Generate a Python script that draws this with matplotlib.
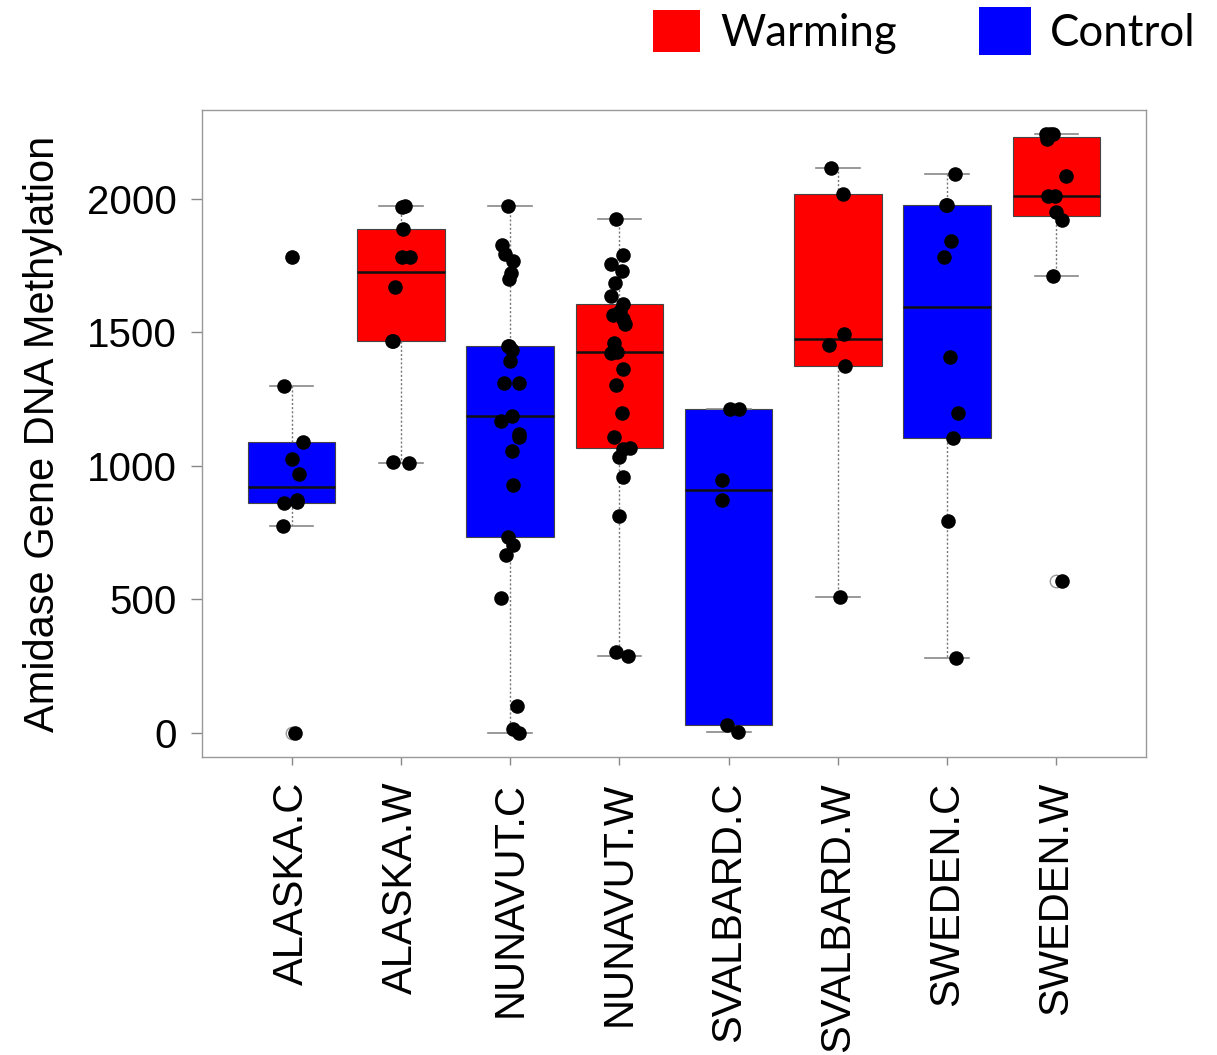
import numpy as np
import matplotlib
matplotlib.use("Agg")
import matplotlib.pyplot as plt
from matplotlib.patches import Rectangle

# groups, in plotting order
groups = ["ALASKA.C", "ALASKA.W", "NUNAVUT.C", "NUNAVUT.W",
          "SVALBARD.C", "SVALBARD.W", "SWEDEN.C", "SWEDEN.W"]

# methylation values, with the horizontal jitter of each dot
alaska_c = [1780, 1297, 1091, 1026, 969, 872, 865, 860, 775, 0]
alaska_c_jit = [0.0, -0.07, 0.10, 0.0, 0.07, 0.05, 0.05, -0.07, -0.08, 0.035]

alaska_w = [1974, 1968, 1886, 1780, 1780, 1668, 1469, 1469, 1016, 1010]
alaska_w_jit = [0.04, 0.01, 0.02, 0.01, 0.08, -0.05, -0.08, -0.07, -0.07, 0.07]

nunavut_c = [1974, 1828, 1793, 1765, 1721, 1699, 1447, 1447, 1432, 1393,
             1310, 1310, 1187, 1166, 1119, 1107, 1057, 929, 735, 702,
             667, 506, 101, 14, 0]
nunavut_c_jit = [-0.02, -0.07, -0.05, 0.025, 0.005, -0.01, -0.02, -0.01, 0.02, 0.0,
                 -0.055, 0.085, 0.015, -0.08, 0.085, 0.08, 0.02, 0.025, -0.02, 0.03,
                 -0.04, -0.08, 0.065, 0.025, 0.08]

nunavut_w = [1922, 1790, 1755, 1729, 1685, 1634, 1605, 1578, 1565, 1551,
             1529, 1458, 1425, 1422, 1361, 1301, 1196, 1109, 1066, 1063,
             1034, 959, 812, 305, 288]
nunavut_w_jit = [-0.03, 0.035, -0.08, 0.02, -0.04, -0.08, 0.03, 0.01, -0.06, 0.035,
                 0.05, -0.045, -0.02, -0.08, 0.035, -0.03, 0.02, -0.05, 0.095, 0.035,
                 -0.005, 0.03, 0.0, -0.03, 0.075]

svalbard_c = [1214, 1214, 946, 872, 29, 5]
svalbard_c_jit = [0.01, 0.09, -0.06, -0.06, -0.015, 0.085]

svalbard_w = [2115, 2017, 1494, 1452, 1374, 509]
svalbard_w_jit = [-0.065, 0.05, 0.06, -0.08, 0.065, 0.02]

sweden_c = [2093, 1975, 1975, 1841, 1781, 1408, 1196, 1103, 795, 280]
sweden_c_jit = [0.075, 0.0, -0.01, 0.035, -0.025, 0.025, 0.095, 0.055, 0.01, 0.085]

sweden_w = [2242, 2242, 2242, 2222, 2086, 2011, 2011, 1951, 1919, 1710, 568]
sweden_w_jit = [-0.095, -0.06, -0.03, -0.09, 0.09, -0.075, -0.015, -0.005, 0.05, -0.035, 0.055]

values = [alaska_c, alaska_w, nunavut_c, nunavut_w,
          svalbard_c, svalbard_w, sweden_c, sweden_w]
jitters = [alaska_c_jit, alaska_w_jit, nunavut_c_jit, nunavut_w_jit,
           svalbard_c_jit, svalbard_w_jit, sweden_c_jit, sweden_w_jit]

RED = "#FF0000"
BLUE = "#0000FF"
colors = [BLUE if g.endswith(".C") else RED for g in groups]


def fivenum(v):
    # Tukey hinges, same as R's boxplot
    x = np.sort(np.asarray(v, dtype=float))
    n = len(x)
    n4 = np.floor((n + 3) / 2) / 2
    d = np.array([1, n4, (n + 1) / 2, n + 1 - n4, n])
    return 0.5 * (x[np.floor(d).astype(int) - 1] + x[np.ceil(d).astype(int) - 1])


def box_stats(v, label):
    v = np.asarray(v, dtype=float)
    lo, q1, med, q3, hi = fivenum(v)
    iqr = q3 - q1
    inside = v[(v >= q1 - 1.5 * iqr) & (v <= q3 + 1.5 * iqr)]
    return dict(label=label, med=med, q1=q1, q3=q3,
                whislo=inside.min(), whishi=inside.max(),
                fliers=v[(v < inside.min()) | (v > inside.max())])


plt.rcParams["font.family"] = ["Liberation Sans", "DejaVu Sans"]

fig = plt.figure(figsize=(12.17, 10.55), dpi=100)
ax = fig.add_axes([0.166, 0.2825, 0.7757, 0.6132])

pos = np.arange(1, len(groups) + 1)
stats = [box_stats(v, g) for v, g in zip(values, groups)]
bp = ax.bxp(stats, positions=pos, widths=0.8, capwidths=0.4, patch_artist=True,
            boxprops=dict(edgecolor="#444444", linewidth=0.8),
            whiskerprops=dict(color="#777777", linewidth=1.0, linestyle=(0, (1.5, 1.5))),
            capprops=dict(color="#888888", linewidth=1.2),
            medianprops=dict(color="#111111", linewidth=1.8),
            flierprops=dict(marker="o", markerfacecolor="none",
                            markeredgecolor="#999999", markersize=9))
for patch, c in zip(bp["boxes"], colors):
    patch.set_facecolor(c)

# the jittered dots on top
for p, v, j in zip(pos, values, jitters):
    ax.scatter(p + np.array(j), v, s=110, color="black", linewidths=0, zorder=5)

allv = np.concatenate([np.asarray(v, dtype=float) for v in values])
span = allv.max() - allv.min()
ax.set_ylim(allv.min() - 0.04 * span, allv.max() + 0.04 * span)
ax.set_xlim(0.5 - 0.04 * len(groups), len(groups) + 0.5 + 0.04 * len(groups))

ax.set_yticks([0, 500, 1000, 1500, 2000])
ax.set_xticks(pos)
ax.set_xticklabels(groups, rotation=90, va="top", ha="center", fontsize=30)
ax.tick_params(axis="both", labelsize=29, color="#888888", width=1, direction="out")
ax.tick_params(axis="x", labelsize=30)
ax.tick_params(axis="y", length=8, pad=10)
ax.tick_params(axis="x", length=6, pad=12)
for s in ax.spines.values():
    s.set_color("#999999")
    s.set_linewidth(1.0)
ax.set_ylabel("Amidase Gene DNA Methylation", fontsize=30, labelpad=17)

# legend drawn in figure pixels
W, H = 1217, 1055
def px_rect(x0, y0, x1, y1, c):
    fig.add_artist(Rectangle((x0 / W, 1 - y1 / H), (x1 - x0) / W, (y1 - y0) / H,
                             transform=fig.transFigure, facecolor=c, edgecolor="none"))

px_rect(653, 10, 700, 52, RED)
px_rect(979, 7, 1031, 55, BLUE)
fig.text(720 / W, 1 - 34 / H, "Warming", fontsize=31.5, family=["Lato", "DejaVu Sans"],
         va="center", ha="left")
fig.text(1050 / W, 1 - 34 / H, "Control", fontsize=31.5, family=["Lato", "DejaVu Sans"],
         va="center", ha="left")

fig.savefig("out.png", dpi=100)
